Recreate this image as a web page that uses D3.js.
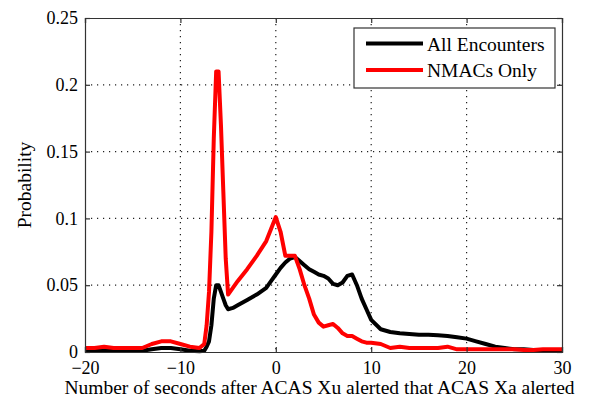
<!DOCTYPE html>
<html>
<head>
<meta charset="utf-8">
<script src="https://cdn.jsdelivr.net/npm/d3@7"></script>
<style>
  html, body { margin: 0; padding: 0; background: #fff; }
  svg { display: block; }
  svg text { font-family: "Liberation Serif", "Times New Roman", Times, "DejaVu Serif", serif !important; fill: #000; }
</style>
</head>
<body>
<svg id="chart" width="594" height="405"></svg>
<script>
// Seconds after the ACAS Xu alert at which ACAS Xa alerted
const seconds = [
  -20, -19, -18, -17, -16, -15, -14, -13, -12, -11, -10, -9, -8,
  -7.5, -7.25, -7, -6.75, -6.5, -6.25, -6, -5.75, -5.5, -5.25, -5,
  -4.5, -4, -3, -2, -1, -0.5, 0, 0.5, 1, 1.5, 2, 2.5, 3, 3.5, 4, 4.5,
  5, 5.5, 6, 6.5, 7, 7.5, 8, 8.5, 9, 9.5, 10, 11, 12, 13, 14, 15, 16,
  17, 18, 19, 20, 21, 22, 23, 24, 25, 26, 27, 28, 29, 30
];

// Probability, all encounters
const allEncounters = [
  0.001, 0.001, 0.001, 0.0008, 0.0008, 0.0008, 0.001, 0.002, 0.003, 0.003, 0.002, 0.001, 0.0005,
  0.001, 0.004, 0.008, 0.02, 0.04, 0.05, 0.05, 0.045, 0.04, 0.035, 0.032,
  0.033, 0.035, 0.039, 0.043, 0.048, 0.053, 0.058, 0.063, 0.067, 0.070, 0.071, 0.068, 0.065, 0.062, 0.060, 0.058,
  0.057, 0.055, 0.051, 0.050, 0.052, 0.057, 0.058, 0.050, 0.040, 0.032, 0.024, 0.017, 0.015, 0.014, 0.0135, 0.013, 0.013,
  0.0125, 0.012, 0.011, 0.010, 0.008, 0.006, 0.004, 0.003, 0.002, 0.002, 0.0015, 0.0015, 0.0015, 0.0015
];

// Probability, NMACs only
const nmacsOnly = [
  0.003, 0.003, 0.004, 0.003, 0.003, 0.003, 0.003, 0.006, 0.008, 0.008, 0.006, 0.004, 0.003,
  0.006, 0.02, 0.045, 0.09, 0.16, 0.21, 0.21, 0.17, 0.12, 0.07, 0.043,
  0.048, 0.053, 0.062, 0.072, 0.083, 0.092, 0.101, 0.09, 0.072, 0.072, 0.072, 0.062, 0.05, 0.04, 0.028, 0.022,
  0.019, 0.02, 0.021, 0.018, 0.014, 0.012, 0.012, 0.010, 0.008, 0.007, 0.007, 0.006, 0.003, 0.004, 0.003, 0.003, 0.003,
  0.003, 0.004, 0.002, 0.002, 0.002, 0.002, 0.002, 0.002, 0.002, 0.0015, 0.0015, 0.002, 0.002, 0.002
];

const xTicks = [-20, -10, 0, 10, 20, 30];
const yTicks = [0, 0.05, 0.1, 0.15, 0.2, 0.25];
const seriesNames = ["All Encounters", "NMACs Only"];
const seriesColors = ["#000000", "#ff0000"];

const svg = d3.select("#chart");
const m = { left: 85, right: 562, top: 18, bottom: 352 };
const tickFont = 18;
const labelFont = 19.5;

const x = d3.scaleLinear().domain([-20, 30]).range([m.left, m.right]);
const y = d3.scaleLinear().domain([0, 0.25]).range([m.bottom, m.top]);

// dotted grid
const grid = svg.append("g").attr("stroke", "#222").attr("stroke-width", 1.2)
  .attr("stroke-dasharray", "1.2,4.8");
xTicks.slice(1, -1).forEach(t => {
  grid.append("line").attr("x1", x(t)).attr("x2", x(t))
    .attr("y1", m.top).attr("y2", m.bottom);
});
yTicks.slice(1, -1).forEach(t => {
  grid.append("line").attr("x1", m.left).attr("x2", m.right)
    .attr("y1", y(t)).attr("y2", y(t));
});

// data lines
const line = d3.line().x((d, i) => x(seconds[i])).y(d => y(d));
[allEncounters, nmacsOnly].forEach((vals, k) => {
  svg.append("path").datum(vals)
    .attr("d", line)
    .attr("fill", "none")
    .attr("stroke", seriesColors[k])
    .attr("stroke-width", 4)
    .attr("stroke-linejoin", "round");
});

// axes: bottom/left with labels, top/right mirrored ticks only
const tickLen = 5;
const axB = d3.axisBottom(x).tickValues(xTicks).tickSize(-tickLen).tickPadding(9).tickFormat(d3.format("d"));
const axT = d3.axisTop(x).tickValues(xTicks).tickSize(-tickLen).tickFormat("");
const axL = d3.axisLeft(y).tickValues(yTicks).tickSize(-tickLen).tickPadding(7).tickFormat(d => d === 0 ? "0" : String(d));
const axR = d3.axisRight(y).tickValues(yTicks).tickSize(-tickLen).tickFormat("");

function styleAxis(g) {
  g.attr("font-family", null).attr("font-size", null);
  g.select(".domain").attr("stroke", "#333").attr("stroke-width", 1.2);
  g.selectAll(".tick line").attr("stroke", "#333").attr("stroke-width", 1.2);
  g.selectAll("text").attr("font-size", tickFont).attr("fill", "#000");
}
svg.append("g").attr("transform", `translate(0,${m.bottom})`).call(axB).call(styleAxis);
svg.append("g").attr("transform", `translate(0,${m.top})`).call(axT).call(styleAxis);
svg.append("g").attr("transform", `translate(${m.left},0)`).call(axL).call(styleAxis);
svg.append("g").attr("transform", `translate(${m.right},0)`).call(axR).call(styleAxis);

// axis titles
svg.append("text")
  .attr("x", (m.left + m.right) / 2 - 4).attr("y", 394)
  .attr("text-anchor", "middle").attr("font-size", labelFont)
  .text("Number of seconds after ACAS Xu alerted that ACAS Xa alerted");
svg.append("text")
  .attr("transform", `translate(31,${(m.top + m.bottom) / 2}) rotate(-90)`)
  .attr("text-anchor", "middle").attr("font-size", labelFont)
  .text("Probability");

// legend
const lg = svg.append("g");
lg.append("rect").attr("x", 354).attr("y", 28).attr("width", 201).attr("height", 60)
  .attr("fill", "#fff").attr("stroke", "#333").attr("stroke-width", 1.2);
seriesNames.forEach((name, k) => {
  const yy = 43.5 + k * 26.5;
  lg.append("line").attr("x1", 366).attr("x2", 423).attr("y1", yy).attr("y2", yy)
    .attr("stroke", seriesColors[k]).attr("stroke-width", 4);
  lg.append("text").attr("x", 427).attr("y", yy + 7).attr("font-size", labelFont).text(name);
});
</script>
</body>
</html>
